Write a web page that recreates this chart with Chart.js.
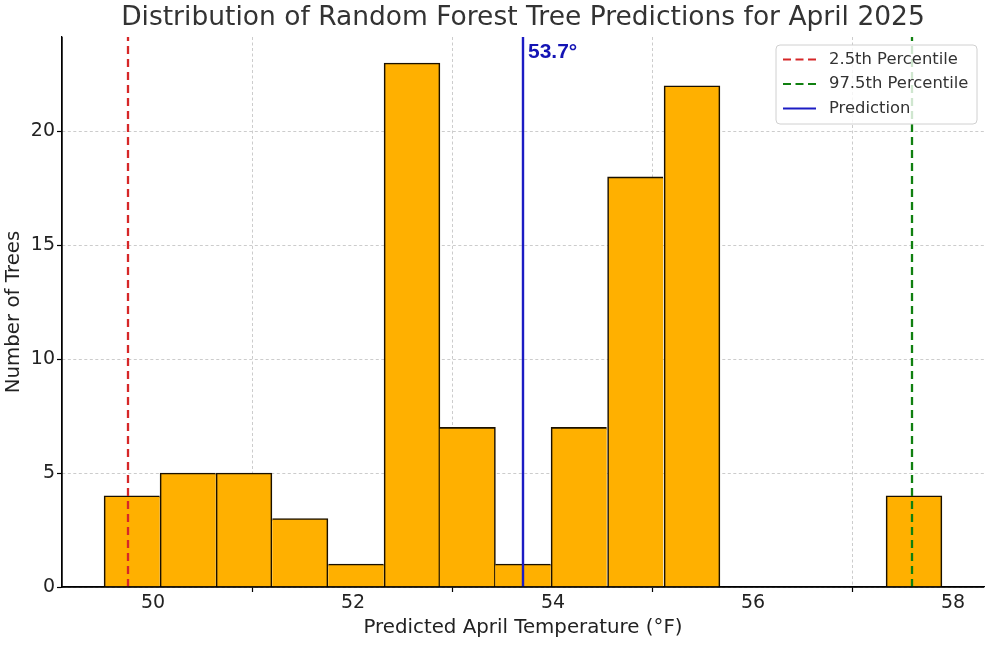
<!DOCTYPE html>
<html>
<head>
<meta charset="utf-8">
<script src="https://cdn.jsdelivr.net/npm/chart.js@4.4.1/dist/chart.umd.min.js"></script>
<style>
  html, body { margin: 0; padding: 0; background: #fff; }
  #wrap { width: 993px; height: 648px; }
</style>
</head>
<body>
<div id="wrap"><canvas id="histChart"></canvas></div>
<script>
// data
const binEdges = [49.51, 50.07, 50.63, 51.19, 51.75, 52.31, 52.87, 53.42, 53.98, 54.54, 55.11, 55.67, 56.22, 56.78, 57.33, 57.89];
const treeCounts = [4, 5, 5, 3, 1, 23, 7, 1, 7, 18, 22, 0, 0, 0, 4];
const xTicks = [50, 52, 54, 56, 58];
const yTicks = [0, 5, 10, 15, 20];
const lowerPct = 49.75;   // 2.5th percentile
const upperPct = 57.59;   // 97.5th percentile
const prediction = 53.70;

const xMin = 49.09, xMax = 58.31, yMax = 24.15;
const FONT = "'DejaVu Sans', sans-serif";
const EDGE = 1.6;

// bar centres from the bin edges
const barPoints = treeCounts.map((c, i) => ({ x: (binEdges[i] + binEdges[i + 1]) / 2, y: c }));

function vline(x) {
  return [{ x: x, y: 0 }, { x: x, y: yMax }];
}

// shared edge between two bars is drawn once, by the taller bar
function edgeWidths(ctx) {
  const i = ctx.dataIndex;
  const c = treeCounts[i];
  if (!c) return 0;
  const prev = i > 0 ? treeCounts[i - 1] : 0;
  const next = i < treeCounts.length - 1 ? treeCounts[i + 1] : 0;
  return { top: EDGE, bottom: 0, left: c >= prev ? EDGE : 0, right: c > next ? EDGE : 0 };
}

const legendItems = [
  { label: '2.5th Percentile', color: '#d62728', dash: [8, 4.5] },
  { label: '97.5th Percentile', color: '#108010', dash: [8, 4.5] },
  { label: 'Prediction', color: '#1c1cc4', dash: [] }
];

const extras = {
  id: 'extras',
  // spines sit above the bars, like matplotlib
  afterDatasetsDraw(chart) {
    const ctx = chart.ctx;
    const a = chart.chartArea;
    ctx.save();
    ctx.strokeStyle = '#000';
    ctx.lineWidth = 1.3;
    ctx.beginPath();
    ctx.moveTo(a.left, a.top);
    ctx.lineTo(a.left, a.bottom);
    ctx.lineTo(a.right, a.bottom);
    ctx.stroke();
    ctx.restore();
  },
  // title, value label and legend box
  afterDraw(chart) {
    const ctx = chart.ctx;
    const area = chart.chartArea;
    const xs = chart.scales.x;
    ctx.save();
    ctx.fillStyle = '#333';
    ctx.font = '26.5px ' + FONT;
    ctx.textAlign = 'center';
    ctx.textBaseline = 'middle';
    ctx.fillText('Distribution of Random Forest Tree Predictions for April 2025', (area.left + area.right) / 2, 18);

    ctx.fillStyle = '#1414b4';
    ctx.font = "bold 21px 'Liberation Sans', Arial, sans-serif";
    ctx.textAlign = 'left';
    ctx.fillText(prediction.toFixed(1) + '°', xs.getPixelForValue(prediction) + 5, area.top + 15);

    const bx = area.right - 208, by = area.top + 8, bw = 201, bh = 79;
    ctx.beginPath();
    ctx.roundRect(bx, by, bw, bh, 4);
    ctx.fillStyle = 'rgba(255,255,255,0.8)';
    ctx.fill();
    ctx.strokeStyle = '#d0d0d0';
    ctx.lineWidth = 1;
    ctx.stroke();
    ctx.font = '16.4px ' + FONT;
    legendItems.forEach((it, i) => {
      const y = by + 14.5 + i * 24.5;
      ctx.beginPath();
      ctx.setLineDash(it.dash);
      ctx.strokeStyle = it.color;
      ctx.lineWidth = 2.2;
      ctx.moveTo(bx + 7, y);
      ctx.lineTo(bx + 40, y);
      ctx.stroke();
      ctx.setLineDash([]);
      ctx.fillStyle = '#333';
      ctx.fillText(it.label, bx + 53, y);
    });
    ctx.restore();
  }
};

const data = {
  datasets: [
    {
      type: 'line', label: '2.5th Percentile', data: vline(lowerPct),
      borderColor: '#d62728', borderWidth: 2.3, borderDash: [8, 5],
      pointRadius: 0, order: 0
    },
    {
      type: 'line', label: '97.5th Percentile', data: vline(upperPct),
      borderColor: '#108010', borderWidth: 2.3, borderDash: [8, 5],
      pointRadius: 0, order: 0
    },
    {
      type: 'line', label: 'Prediction', data: vline(prediction),
      borderColor: '#1c1cc4', borderWidth: 2.4,
      pointRadius: 0, order: 0
    },
    {
      type: 'bar', label: 'Trees', data: barPoints,
      backgroundColor: '#ffb000',
      borderColor: '#1a1000',
      borderWidth: edgeWidths,
      inflateAmount: ctx => (treeCounts[ctx.dataIndex] ? 0.5 : 0),
      barPercentage: 1, categoryPercentage: 1,
      order: 1
    }
  ]
};

const config = {
  type: 'bar',
  data,
  options: {
    responsive: true,
    maintainAspectRatio: false,
    animation: false,
    devicePixelRatio: 1,
    layout: { padding: { top: 37, right: 9, left: 0, bottom: 0 } },
    plugins: {
      legend: { display: false },
      tooltip: { enabled: false },
      title: { display: false }
    },
    scales: {
      x: {
        type: 'linear', min: xMin, max: xMax, bounds: 'data', offset: false,
        afterBuildTicks: s => { s.ticks = xTicks.map(v => ({ value: v })); },
        afterFit: s => { s.height = 61; },
        grid: { color: '#cccccc', lineWidth: 1, tickColor: '#000', tickLength: 5, tickWidth: 1.2, tickBorderDash: [] },
        border: { display: true, color: '#000', width: 1.3, dash: [3, 2.5] },
        ticks: { color: '#222', font: { family: FONT, size: 19 }, padding: 0, maxRotation: 0 },
        title: { display: true, text: 'Predicted April Temperature (°F)', color: '#222', font: { family: FONT, size: 19.8 }, padding: { top: 0, bottom: 8 } }
      },
      y: {
        type: 'linear', min: 0, max: yMax, bounds: 'data',
        afterBuildTicks: s => { s.ticks = yTicks.map(v => ({ value: v })); },
        afterFit: s => { s.width = 62; },
        grid: { color: '#cccccc', lineWidth: 1, tickColor: '#000', tickLength: 5, tickWidth: 1.2, tickBorderDash: [] },
        border: { display: true, color: '#000', width: 1.3, dash: [3, 2.5] },
        ticks: { color: '#222', font: { family: FONT, size: 19 }, padding: 2 },
        title: { display: true, text: 'Number of Trees', color: '#222', font: { family: FONT, size: 19.8 }, padding: { top: 2, bottom: 0 } }
      }
    }
  },
  plugins: [extras]
};

const histChart = new Chart(document.getElementById('histChart'), config);
</script>
</body>
</html>
